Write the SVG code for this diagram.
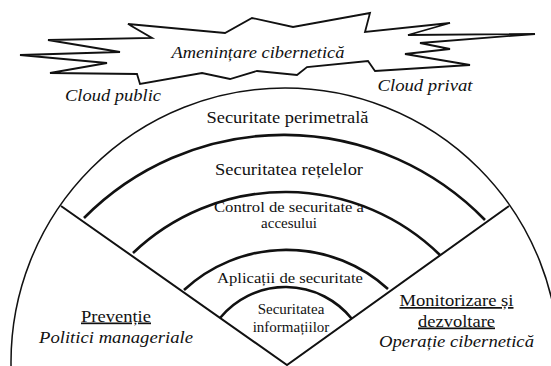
<svg xmlns="http://www.w3.org/2000/svg" width="551" height="366" viewBox="0 0 551 366">
<style>
text{font-family:'Liberation Serif','Times New Roman',serif;font-size:17px;fill:#111;text-anchor:middle}
.i{font-style:italic}
.u{text-decoration:underline}
.s{font-size:15px}
.ring{fill:none;stroke:#111;stroke-width:2.6;stroke-linecap:butt}
</style>
<rect width="551" height="366" fill="#fff"/>
<g id="cloud">
<polygon points="20,55 120,52 48,40 152,38 128,24 225,33 252,18 293,27 370,13 365,32 450,23 408,35 535,34 420,43 450,49 405,54 470,65 375,71 368,61 307,67 297,75 257,71 230,79 202,73 140,84 137,74 50,73 107,63" fill="#fff" stroke="#111" stroke-width="1.8" stroke-linejoin="miter"/>
<text class="i" x="258" y="58" textLength="173" lengthAdjust="spacingAndGlyphs">Amenințare cibernetică</text>
</g>
<g id="cloud-public"><text class="i" x="113" y="101" textLength="96" lengthAdjust="spacingAndGlyphs">Cloud public</text></g>
<g id="cloud-privat"><text class="i" x="425" y="91" textLength="95" lengthAdjust="spacingAndGlyphs">Cloud privat</text></g>
<g id="connectors">
<circle cx="285" cy="362" r="274" fill="none" stroke="#111" stroke-width="1.5"/>
<polyline points="61,206 287,365 509,206" fill="none" stroke="#111" stroke-width="2"/>
</g>
<g id="perimetral">
<text x="287.5" y="123" textLength="162" lengthAdjust="spacingAndGlyphs">Securitate perimetrală</text>
<path class="ring" d="M84,218 A281,281 0 0,1 485,220"/>
</g>
<g id="retele">
<text x="289" y="175" textLength="148" lengthAdjust="spacingAndGlyphs">Securitatea rețelelor</text>
<path class="ring" d="M133,253 A221,221 0 0,1 440,255"/>
</g>
<g id="control">
<text class="s" x="289" y="212" textLength="150" lengthAdjust="spacingAndGlyphs">Control de securitate a</text>
<text class="s" x="289" y="228">accesului</text>
<path class="ring" d="M184,290 A151,151 0 0,1 388,289"/>
</g>
<g id="aplicatii">
<text class="s" x="290" y="283" textLength="146" lengthAdjust="spacingAndGlyphs">Aplicații de securitate</text>
<path class="ring" d="M220,318 A85,85 0 0,1 352,319"/>
</g>
<g id="informatii">
<text class="s" x="291" y="314">Securitatea</text>
<text class="s" x="291" y="331.5">informațiilor</text>
</g>
<g id="preventie">
<text class="u" x="116" y="321.5" textLength="70" lengthAdjust="spacingAndGlyphs">Prevenție</text>
<text class="i" x="116" y="343" textLength="154" lengthAdjust="spacingAndGlyphs">Politici manageriale</text>
</g>
<g id="monitorizare">
<text class="u" x="456.5" y="306" textLength="114" lengthAdjust="spacingAndGlyphs">Monitorizare și</text>
<text class="u" x="456.5" y="326.5" textLength="77" lengthAdjust="spacingAndGlyphs">dezvoltare</text>
<text class="i" x="456.5" y="346.5" textLength="155" lengthAdjust="spacingAndGlyphs">Operație cibernetică</text>
</g>
</svg>
